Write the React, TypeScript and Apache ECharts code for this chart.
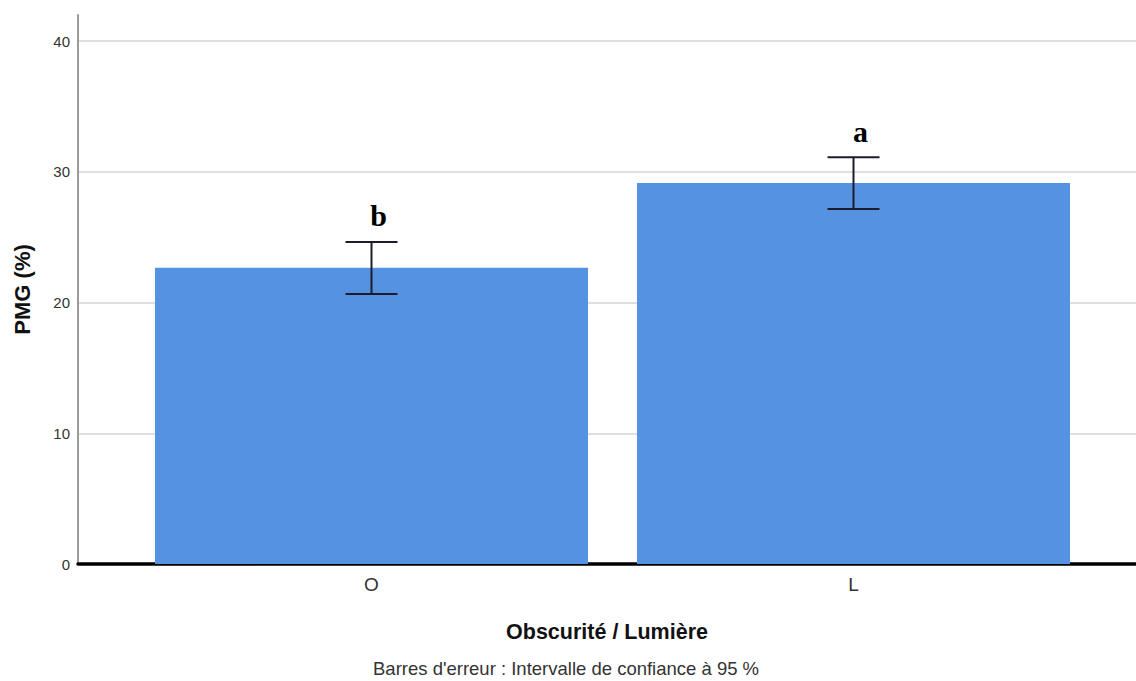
import React, { useEffect, useRef } from "react";
import * as echarts from "echarts";

const categories = ["O", "L"];
const categoryPositions = [1, 2];
const means = [22.66, 29.15];
const ciLow = [20.66, 27.15];
const ciHigh = [24.63, 31.11];
const letters = ["b", "a"];
const yTicks = [0, 10, 20, 30, 40];

export default function App() {
  const ref = useRef<HTMLDivElement>(null);
  useEffect(() => {
    if (!ref.current) return;
    const chart = echarts.init(ref.current, undefined, { renderer: "svg" });
    const font = '"Liberation Sans", Arial, sans-serif';
    chart.setOption({
      animation: false,
      backgroundColor: "#ffffff",
      title: {
        text: "Barres d'erreur : Intervalle de confiance à 95 %",
        left: 373,
        top: 659,
        padding: 0,
        textStyle: { fontFamily: font, fontSize: 18.5, fontWeight: "normal", color: "#333333" },
      },
      grid: { left: 78, right: 0, top: 14.9, bottom: 117, containLabel: false },
      xAxis: {
        type: "value",
        min: 0.3911,
        max: 2.5861,
        splitLine: { show: false },
        axisLine: { show: true, onZero: false, lineStyle: { color: "#000000", width: 3.5 } },
        axisTick: { show: false },
        axisLabel: {
          customValues: categoryPositions,
          formatter: (v: number) => categories[categoryPositions.indexOf(Math.round(v))] ?? "",
          fontFamily: font,
          fontSize: 19,
          color: "#333333",
          margin: 11,
        },
        name: "Obscurité / Lumière",
        nameLocation: "middle",
        nameGap: 57,
        nameTextStyle: { fontFamily: font, fontSize: 21.5, fontWeight: "bold", color: "#111111" },
      },
      yAxis: {
        type: "value",
        min: 0,
        max: 42,
        axisLine: { show: true, lineStyle: { color: "#9a9a9a", width: 2 } },
        axisTick: { show: false, customValues: yTicks },
        axisLabel: {
          customValues: yTicks,
          fontFamily: font,
          fontSize: 15,
          color: "#333333",
          margin: 8,
        },
        splitLine: { show: true, lineStyle: { color: "#d4d4d4", width: 1.5 } },
        name: "PMG (%)",
        nameLocation: "middle",
        nameGap: 45,
        nameTextStyle: { fontFamily: font, fontSize: 22, fontWeight: "bold", color: "#111111" },
      },
      series: [
        {
          type: "bar",
          barWidth: 433,
          itemStyle: { color: "#5593E2" },
          data: categoryPositions.map((p, i) => [p, means[i]]),
          z: 2,
        },
        {
          type: "custom",
          z: 5,
          data: categoryPositions.map((p, i) => [p, ciLow[i], ciHigh[i]]),
          renderItem: (params: any, api: any) => {
            const x = api.value(0);
            const lo = api.coord([x, api.value(1)]);
            const hi = api.coord([x, api.value(2)]);
            const half = 26;
            const stroke = "#1c1c2a";
            return {
              type: "group",
              children: [
                { type: "line", shape: { x1: hi[0], y1: hi[1], x2: lo[0], y2: lo[1] }, style: { stroke, lineWidth: 2 } },
                { type: "line", shape: { x1: hi[0] - half, y1: hi[1], x2: hi[0] + half, y2: hi[1] }, style: { stroke, lineWidth: 2 } },
                { type: "line", shape: { x1: lo[0] - half, y1: lo[1], x2: lo[0] + half, y2: lo[1] }, style: { stroke, lineWidth: 2 } },
                {
                  type: "text",
                  x: hi[0] + 7,
                  y: hi[1] - 11,
                  style: {
                    text: letters[params.dataIndex],
                    font: 'bold 30px "Liberation Serif", "Times New Roman", serif',
                    fill: "#000000",
                    align: "center",
                    verticalAlign: "bottom",
                  },
                },
              ],
            };
          },
        },
      ],
    });
    return () => chart.dispose();
  }, []);
  return <div ref={ref} style={{ position: "fixed", left: 0, top: 0, width: 1136, height: 681 }} />;
}
